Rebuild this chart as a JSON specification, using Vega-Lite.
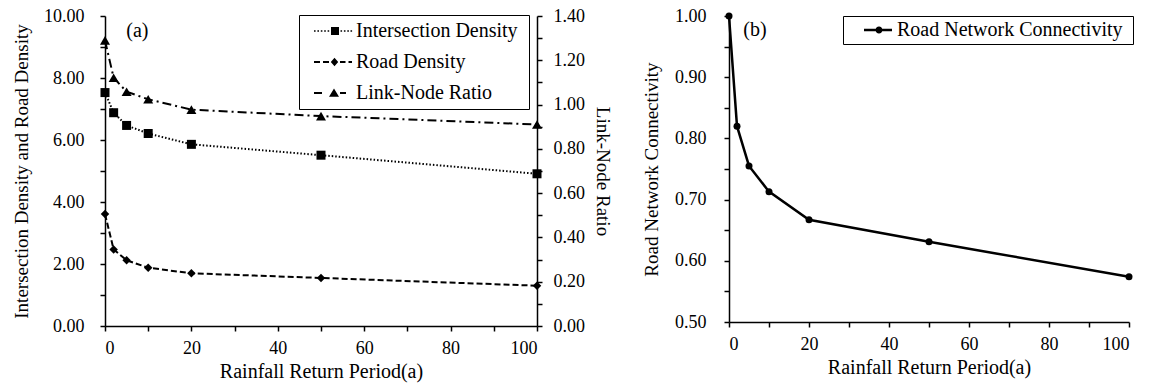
{
  "$schema": "https://vega.github.io/schema/vega-lite/v6.json",
  "background": "white",
  "padding": {"left": 12, "top": 7, "right": 5, "bottom": 5},
  "spacing": 30,
  "config": {
    "font": "Liberation Serif, Times New Roman, DejaVu Serif, serif",
    "view": {"stroke": null},
    "axis": {
      "grid": false,
      "domainColor": "black",
      "domainWidth": 1.5,
      "tickColor": "black",
      "tickWidth": 1.5,
      "tickSize": 5,
      "labelColor": "black",
      "titleColor": "black",
      "labelFont": "Liberation Serif, Times New Roman, DejaVu Serif, serif",
      "titleFont": "Liberation Serif, Times New Roman, DejaVu Serif, serif",
      "labelFontSize": 18,
      "titleFontSize": 19,
      "titleFontWeight": "normal"
    },
    "axisX": {"titleFontSize": 20},
    "legend": {
      "labelFont": "Liberation Serif, Times New Roman, DejaVu Serif, serif",
      "labelFontSize": 20,
      "labelColor": "black",
      "labelLimit": 400,
      "strokeColor": "black",
      "strokeWidth": 1,
      "symbolOpacity": 1,
      "symbolFillColor": "black",
      "symbolStrokeWidth": 0
    },
    "text": {"font": "Liberation Serif, Times New Roman, DejaVu Serif, serif"}
  },
  "data": {
    "values": [
      {"period": 0, "series": "Intersection Density", "value": 7.53},
      {"period": 2, "series": "Intersection Density", "value": 6.88},
      {"period": 5, "series": "Intersection Density", "value": 6.47},
      {"period": 10, "series": "Intersection Density", "value": 6.21},
      {"period": 20, "series": "Intersection Density", "value": 5.86},
      {"period": 50, "series": "Intersection Density", "value": 5.51},
      {"period": 100, "series": "Intersection Density", "value": 4.91},
      {"period": 0, "series": "Road Density", "value": 3.61},
      {"period": 2, "series": "Road Density", "value": 2.47},
      {"period": 5, "series": "Road Density", "value": 2.12},
      {"period": 10, "series": "Road Density", "value": 1.88},
      {"period": 20, "series": "Road Density", "value": 1.70},
      {"period": 50, "series": "Road Density", "value": 1.55},
      {"period": 100, "series": "Road Density", "value": 1.30},
      {"period": 0, "series": "Link-Node Ratio", "value": 1.29},
      {"period": 2, "series": "Link-Node Ratio", "value": 1.121},
      {"period": 5, "series": "Link-Node Ratio", "value": 1.058},
      {"period": 10, "series": "Link-Node Ratio", "value": 1.024},
      {"period": 20, "series": "Link-Node Ratio", "value": 0.977},
      {"period": 50, "series": "Link-Node Ratio", "value": 0.948},
      {"period": 100, "series": "Link-Node Ratio", "value": 0.91},
      {"period": 0, "series": "Road Network Connectivity", "value": 1.0},
      {"period": 2, "series": "Road Network Connectivity", "value": 0.82},
      {"period": 5, "series": "Road Network Connectivity", "value": 0.755},
      {"period": 10, "series": "Road Network Connectivity", "value": 0.713},
      {"period": 20, "series": "Road Network Connectivity", "value": 0.667},
      {"period": 50, "series": "Road Network Connectivity", "value": 0.631},
      {"period": 100, "series": "Road Network Connectivity", "value": 0.574}
    ]
  },
  "hconcat": [
    {
      "width": 432,
      "height": 310,
      "layer": [
        {
          "transform": [{"filter": "datum.series == 'Intersection Density' || datum.series == 'Road Density'"}],
          "encoding": {
            "x": {"field": "period", "type": "quantitative", "scale": {"domain": [0, 100], "nice": false},
              "axis": {"title": "Rainfall Return Period(a)", "values": [0, 10, 20, 30, 40, 50, 60, 70, 80, 90, 100], "format": "d", "labelExpr": "datum.value % 20 == 0 ? datum.label : ''", "labelPadding": 8, "titlePadding": 4}},
            "y": {"field": "value", "type": "quantitative", "scale": {"domain": [0, 10], "nice": false},
              "axis": {"title": "Intersection Density and Road Density", "values": [0, 1, 2, 3, 4, 5, 6, 7, 8, 9, 10], "format": ".2f", "labelExpr": "datum.value % 2 == 0 ? datum.label : ''", "labelPadding": 16, "titlePadding": 12}}
          },
          "layer": [
            {
              "mark": {"type": "line", "color": "black", "strokeWidth": 2},
              "encoding": {
                "detail": {"field": "series"},
                "strokeDash": {"field": "series", "type": "nominal", "scale": {"domain": ["Intersection Density", "Road Density"], "range": [[1.5, 2], [6, 3]]}, "legend": null}
              }
            },
            {
              "mark": {"type": "point", "filled": true, "color": "black", "opacity": 1},
              "encoding": {
                "shape": {"field": "series", "type": "nominal", "scale": {"domain": ["Intersection Density", "Road Density"], "range": ["square", "diamond"]}, "legend": null},
                "size": {"field": "series", "type": "nominal", "scale": {"domain": ["Intersection Density", "Road Density"], "range": [81, 72]}, "legend": null}
              }
            },
            {
              "transform": [{"filter": "datum.series == 'Intersection Density' && datum.period == 0"}],
              "mark": {"type": "text", "fontSize": 20, "color": "black", "align": "center", "baseline": "middle"},
              "encoding": {
                "x": {"datum": 7.5, "type": "quantitative"},
                "y": {"datum": 9.52, "type": "quantitative"},
                "text": {"value": "(a)"}
              }
            }
          ]
        },
        {
          "transform": [{"filter": "datum.series == 'Link-Node Ratio'"}],
          "encoding": {
            "x": {"field": "period", "type": "quantitative", "scale": {"domain": [0, 100], "nice": false}},
            "y": {"field": "value", "type": "quantitative", "scale": {"domain": [0, 1.4], "nice": false},
              "axis": {"orient": "right", "title": "Link-Node Ratio", "values": [0, 0.1, 0.2, 0.3, 0.4, 0.5, 0.6, 0.7, 0.8, 0.9, 1.0, 1.1, 1.2, 1.3, 1.4], "format": ".2f", "labelExpr": "round(datum.value * 10) % 2 == 0 ? datum.label : ''", "labelPadding": 11, "titlePadding": 8}}
          },
          "layer": [
            {"mark": {"type": "line", "color": "black", "strokeWidth": 2, "strokeDash": [9, 4, 2, 4]}, "encoding": {}},
            {"mark": {"type": "point", "filled": true, "color": "black", "opacity": 1, "shape": "triangle-up", "size": 100}, "encoding": {}}
          ]
        },
        {
          "transform": [{"filter": "datum.series == 'Intersection Density' || datum.series == 'Road Density' || datum.series == 'Link-Node Ratio'"}],
          "mark": {"type": "point", "filled": true, "color": "black", "opacity": 0},
          "encoding": {
            "x": {"field": "period", "type": "quantitative", "scale": {"domain": [0, 100], "nice": false}},
            "y": {"field": "value", "type": "quantitative", "axis": null},
            "shape": {"field": "series", "type": "nominal",
              "scale": {"domain": ["Intersection Density", "Road Density", "Link-Node Ratio"],
                "range": [
                  "M-0.1,-0.08L0.06,-0.08L0.06,0.08L-0.1,0.08Z M0.24,-0.08L0.4,-0.08L0.4,0.08L0.24,0.08Z M0.58,-0.08L0.74,-0.08L0.74,0.08L0.58,0.08Z M0.92,-0.08L1.08,-0.08L1.08,0.08L0.92,0.08Z M1.26,-0.08L1.42,-0.08L1.42,0.08L1.26,0.08Z M1.6,-0.4L2.4,-0.4L2.4,0.4L1.6,0.4Z M2.55,-0.08L2.71,-0.08L2.71,0.08L2.55,0.08Z M2.89,-0.08L3.05,-0.08L3.05,0.08L2.89,0.08Z M3.23,-0.08L3.39,-0.08L3.39,0.08L3.23,0.08Z M3.55,-0.08L3.71,-0.08L3.71,0.08L3.55,0.08Z M20.8,0Z",
                  "M-0.1,-0.1L0.5,-0.1L0.5,0.1L-0.1,0.1Z M0.8,-0.1L1.4,-0.1L1.4,0.1L0.8,0.1Z M1.95,-0.42L2.32,0L1.95,0.42L1.58,0Z M2.5,-0.1L3.05,-0.1L3.05,0.1L2.5,0.1Z M3.35,-0.1L3.7,-0.1L3.7,0.1L3.35,0.1Z M20.8,0Z",
                  "M-0.1,-0.1L0.7,-0.1L0.7,0.1L-0.1,0.1Z M1.9,-0.45L2.4,0.38L1.4,0.38Z M2.5,-0.1L3.1,-0.1L3.1,0.1L2.5,0.1Z M20.8,0Z"
                ]},
              "legend": {"title": null, "orient": "none", "legendX": 194, "legendY": -1, "padding": 6, "symbolSize": 400, "labelOffset": 31, "rowPadding": 11, "symbolOpacity": 1, "symbolFillColor": "black", "symbolStrokeWidth": 0}}
          }
        }
      ],
      "resolve": {"scale": {"y": "independent", "shape": "independent"}}
    },
    {
      "width": 400,
      "height": 306,
      "transform": [{"filter": "datum.series == 'Road Network Connectivity'"}],
      "encoding": {
        "x": {"field": "period", "type": "quantitative", "scale": {"domain": [0, 100], "nice": false},
          "axis": {"title": "Rainfall Return Period(a)", "values": [0, 10, 20, 30, 40, 50, 60, 70, 80, 90, 100], "format": "d", "labelExpr": "datum.value % 20 == 0 ? datum.label : ''", "labelPadding": 8, "titlePadding": 4}},
        "y": {"field": "value", "type": "quantitative", "scale": {"domain": [0.5, 1.0], "nice": false, "zero": false},
          "axis": {"title": "Road Network Connectivity", "values": [0.5, 0.55, 0.6, 0.65, 0.7, 0.75, 0.8, 0.85, 0.9, 0.95, 1.0], "format": ".2f", "labelExpr": "round(datum.value * 100) % 10 == 0 ? datum.label : ''", "labelPadding": 18, "titlePadding": 13}}
      },
      "layer": [
        {"mark": {"type": "line", "color": "black", "strokeWidth": 2.5}, "encoding": {}},
        {"mark": {"type": "point", "filled": true, "color": "black", "opacity": 1, "shape": "circle", "size": 49}, "encoding": {}},
        {
          "transform": [{"filter": "datum.period == 0"}],
          "mark": {"type": "text", "fontSize": 20, "color": "black", "align": "center", "baseline": "middle"},
          "encoding": {
            "x": {"datum": 6.5, "type": "quantitative"},
            "y": {"datum": 0.977, "type": "quantitative"},
            "text": {"value": "(b)"}
          }
        },
        {
          "mark": {"type": "point", "filled": true, "color": "black", "opacity": 0},
          "encoding": {
            "shape": {"field": "series", "type": "nominal",
              "scale": {"domain": ["Road Network Connectivity"], "range": ["M0.875,-0.15L4.375,-0.15L4.375,0.15L0.875,0.15Z M3.1875,0A0.4375,0.4375 0 1,1 2.3125,0A0.4375,0.4375 0 1,1 3.1875,0Z M34,0Z"]},
              "legend": {"title": null, "orient": "none", "legendX": 738, "legendY": 0, "padding": 4, "symbolSize": 256, "labelOffset": 30, "symbolOpacity": 1, "symbolFillColor": "black", "symbolStrokeWidth": 0}}
          }
        }
      ]
    }
  ]
}
